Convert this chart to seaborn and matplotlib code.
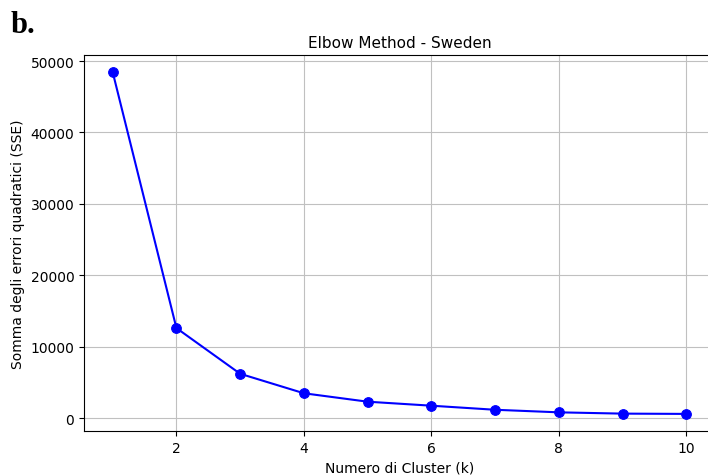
import matplotlib
matplotlib.use("Agg")
import matplotlib.pyplot as plt
import seaborn as sns
import pandas as pd

# SSE per number of clusters (k-means elbow curve)
k_values = [1, 2, 3, 4, 5, 6, 7, 8, 9, 10]
sse_values = [48450, 12600, 6200, 3470, 2290, 1730, 1160, 800, 620, 580]

df = pd.DataFrame({"k": k_values, "sse": sse_values})

W, H = 708, 477
fig = plt.figure(figsize=(W / 100, H / 100), dpi=100)
# axes box: left/right/top/bottom in pixels
left, right, top, bottom = 84, 715, 56, 432
ax = fig.add_axes([left / W, 1 - bottom / H, (right - left) / W, (bottom - top) / H])

sns.lineplot(data=df, x="k", y="sse", ax=ax, color="blue", marker="o",
             markersize=7, markeredgecolor="blue", linewidth=1.5)

ax.set_title("Elbow Method - Sweden", fontsize=11)
ax.set_xlabel("Numero di Cluster (k)")
ax.set_ylabel("Somma degli errori quadratici (SSE)")
ax.grid(True, color="#c0c0c0", linewidth=0.8)
ax.set_axisbelow(True)

fig.text(11 / W, 1 - 33 / H, "b.", fontsize=22, fontweight="bold",
         family="Liberation Serif", ha="left", va="baseline")

fig.savefig("out.png", dpi=100)
